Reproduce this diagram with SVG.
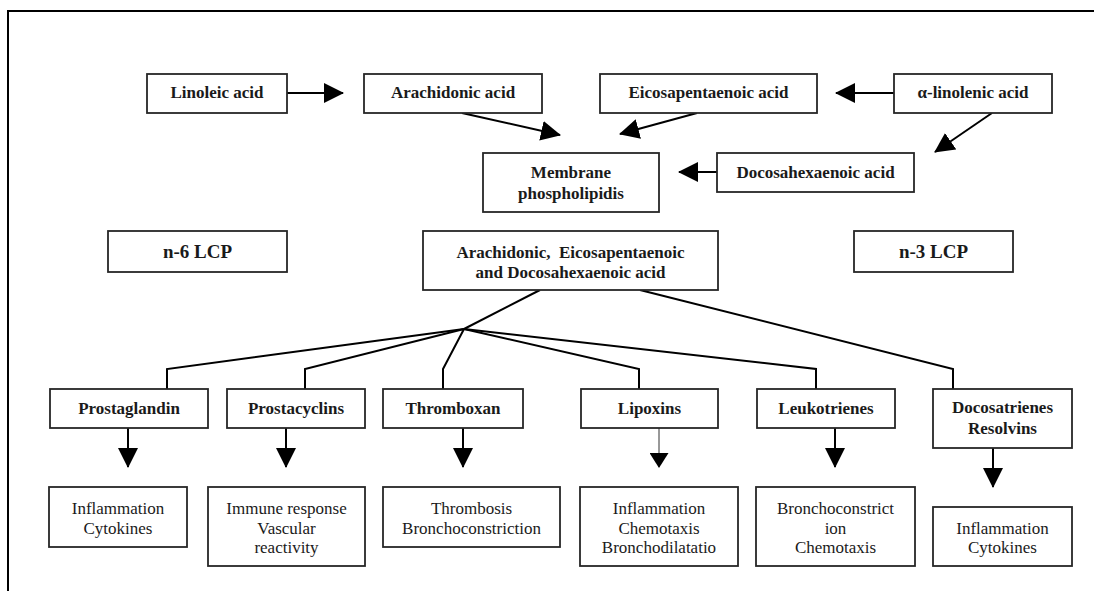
<svg xmlns="http://www.w3.org/2000/svg" width="1094" height="591" viewBox="0 0 1094 591">
  <style>
    .box { fill: #ffffff; stroke: #262626; stroke-width: 1.8; }
    .hd { font-family: "Liberation Serif", "Times New Roman", serif; font-weight: bold; font-size: 17px; fill: #1a1a1a; text-anchor: middle; }
    .big { font-size: 19px; }
    .txt { font-family: "Liberation Serif", "Times New Roman", serif; font-size: 17px; fill: #1a1a1a; text-anchor: middle; }
    .pre { white-space: pre; }
    .ln { fill: none; stroke: #000000; stroke-width: 2; }
    .thin { fill: none; stroke: #333333; stroke-width: 1; }
    .arr { marker-end: url(#head); }
  </style>
  <defs>
    <marker id="head" markerUnits="userSpaceOnUse" viewBox="0 0 20 20" markerWidth="20" markerHeight="20" refX="19" refY="10" orient="auto">
      <path d="M0,0 L20,10 L0,20 z" fill="#000000"/>
    </marker>
    <marker id="headSmall" markerUnits="userSpaceOnUse" viewBox="0 0 15 19" markerWidth="15" markerHeight="19" refX="14" refY="9.5" orient="auto">
      <path d="M0,0 L15,9.5 L0,19 z" fill="#000000"/>
    </marker>
  </defs>

  <rect x="0" y="0" width="1094" height="591" fill="#ffffff"/>

  <!-- frame -->
  <g id="frame">
    <path class="ln" d="M8,591 L8,11 L1094,11"/>
  </g>

  <!-- connectors -->
  <g id="connectors">
    <line class="ln arr" x1="287" y1="93" x2="343" y2="93"/>
    <line class="ln arr" x1="894" y1="93" x2="836" y2="93"/>
    <line class="ln arr" x1="462" y1="113" x2="560" y2="135"/>
    <line class="ln arr" x1="697" y1="113" x2="620" y2="134"/>
    <line class="ln arr" x1="992" y1="113" x2="935" y2="152"/>
    <line class="ln arr" x1="717" y1="172" x2="679" y2="172"/>

    <!-- fan-out to mediator families -->
    <path class="ln" d="M540,290 L464,329"/>
    <path class="ln" d="M464,329 L167,369 L167,389"/>
    <path class="ln" d="M464,329 L305,369 L305,389"/>
    <path class="ln" d="M464,329 L443,369 L443,389"/>
    <path class="ln" d="M464,329 L639,369 L639,389"/>
    <path class="ln" d="M464,329 L816,369 L816,389"/>
    <path class="ln" d="M640,290 L953,369 L953,389"/>

    <!-- effects -->
    <line class="ln arr" x1="128" y1="428" x2="128" y2="467"/>
    <line class="ln arr" x1="286" y1="428" x2="286" y2="467"/>
    <line class="ln arr" x1="463" y1="428" x2="463" y2="467"/>
    <line class="thin" x1="659" y1="428" x2="659" y2="467" marker-end="url(#headSmall)"/>
    <line class="ln arr" x1="835" y1="428" x2="835" y2="467"/>
    <line class="ln arr" x1="993" y1="448" x2="993" y2="487"/>
  </g>

  <!-- precursors -->
  <g id="linoleic">
    <rect class="box" x="147" y="74" width="140" height="39"/>
    <text class="hd" x="217" y="98">Linoleic acid</text>
  </g>
  <g id="arachidonic">
    <rect class="box" x="364" y="74" width="178" height="39"/>
    <text class="hd" x="453" y="98">Arachidonic acid</text>
  </g>
  <g id="eicosapentaenoic">
    <rect class="box" x="600" y="74" width="217" height="39"/>
    <text class="hd" x="708.5" y="98">Eicosapentaenoic acid</text>
  </g>
  <g id="alpha-linolenic">
    <rect class="box" x="894" y="74" width="158" height="39"/>
    <text class="hd" x="973" y="98">α-linolenic acid</text>
  </g>
  <g id="membrane">
    <rect class="box" x="483" y="153" width="176" height="59"/>
    <text class="hd" x="571" y="178">Membrane</text>
    <text class="hd" x="571" y="199">phospholipidis</text>
  </g>
  <g id="docosahexaenoic">
    <rect class="box" x="717" y="153" width="197" height="39"/>
    <text class="hd" x="815.5" y="178">Docosahexaenoic acid</text>
  </g>

  <!-- series labels and pool -->
  <g id="n6">
    <rect class="box" x="108" y="231" width="179" height="41"/>
    <text class="hd big" x="197.5" y="258">n-6 LCP</text>
  </g>
  <g id="pool">
    <rect class="box" x="423" y="231" width="295" height="59"/>
    <text class="hd pre" x="570.5" y="257.5">Arachidonic,  Eicosapentaenoic</text>
    <text class="hd" x="570.5" y="277.5">and Docosahexaenoic acid</text>
  </g>
  <g id="n3">
    <rect class="box" x="854" y="231" width="159" height="41"/>
    <text class="hd big" x="933.5" y="258">n-3 LCP</text>
  </g>

  <!-- mediator families -->
  <g id="prostaglandin">
    <rect class="box" x="50" y="389" width="158" height="39"/>
    <text class="hd" x="129" y="414">Prostaglandin</text>
  </g>
  <g id="prostacyclins">
    <rect class="box" x="227" y="389" width="138" height="39"/>
    <text class="hd" x="296" y="414">Prostacyclins</text>
  </g>
  <g id="thromboxan">
    <rect class="box" x="383" y="389" width="140" height="39"/>
    <text class="hd" x="453" y="414">Thromboxan</text>
  </g>
  <g id="lipoxins">
    <rect class="box" x="581" y="389" width="137" height="39"/>
    <text class="hd" x="649.5" y="414">Lipoxins</text>
  </g>
  <g id="leukotrienes">
    <rect class="box" x="757" y="389" width="138" height="39"/>
    <text class="hd" x="826" y="414">Leukotrienes</text>
  </g>
  <g id="docosatrienes">
    <rect class="box" x="933" y="389" width="139" height="59"/>
    <text class="hd" x="1002.5" y="413">Docosatrienes</text>
    <text class="hd" x="1002.5" y="434">Resolvins</text>
  </g>

  <!-- biological effects -->
  <g id="effect-prostaglandin">
    <rect class="box" x="49" y="487" width="138" height="60"/>
    <text class="txt" x="118" y="514">Inflammation</text>
    <text class="txt" x="118" y="533.5">Cytokines</text>
  </g>
  <g id="effect-prostacyclins">
    <rect class="box" x="208" y="487" width="157" height="79"/>
    <text class="txt" x="286.5" y="514">Immune response</text>
    <text class="txt" x="286.5" y="533.5">Vascular</text>
    <text class="txt" x="286.5" y="553">reactivity</text>
  </g>
  <g id="effect-thromboxan">
    <rect class="box" x="383" y="487" width="177" height="60"/>
    <text class="txt" x="471.5" y="514">Thrombosis</text>
    <text class="txt" x="471.5" y="533.5">Bronchoconstriction</text>
  </g>
  <g id="effect-lipoxins">
    <rect class="box" x="580" y="487" width="158" height="79"/>
    <text class="txt" x="659" y="514">Inflammation</text>
    <text class="txt" x="659" y="533.5">Chemotaxis</text>
    <text class="txt" x="659" y="553">Bronchodilatatio</text>
  </g>
  <g id="effect-leukotrienes">
    <rect class="box" x="756" y="487" width="159" height="79"/>
    <text class="txt" x="835.5" y="514">Bronchoconstrict</text>
    <text class="txt" x="835.5" y="533.5">ion</text>
    <text class="txt" x="835.5" y="553">Chemotaxis</text>
  </g>
  <g id="effect-docosatrienes">
    <rect class="box" x="933" y="507" width="139" height="59"/>
    <text class="txt" x="1002.5" y="533.5">Inflammation</text>
    <text class="txt" x="1002.5" y="553">Cytokines</text>
  </g>
</svg>
